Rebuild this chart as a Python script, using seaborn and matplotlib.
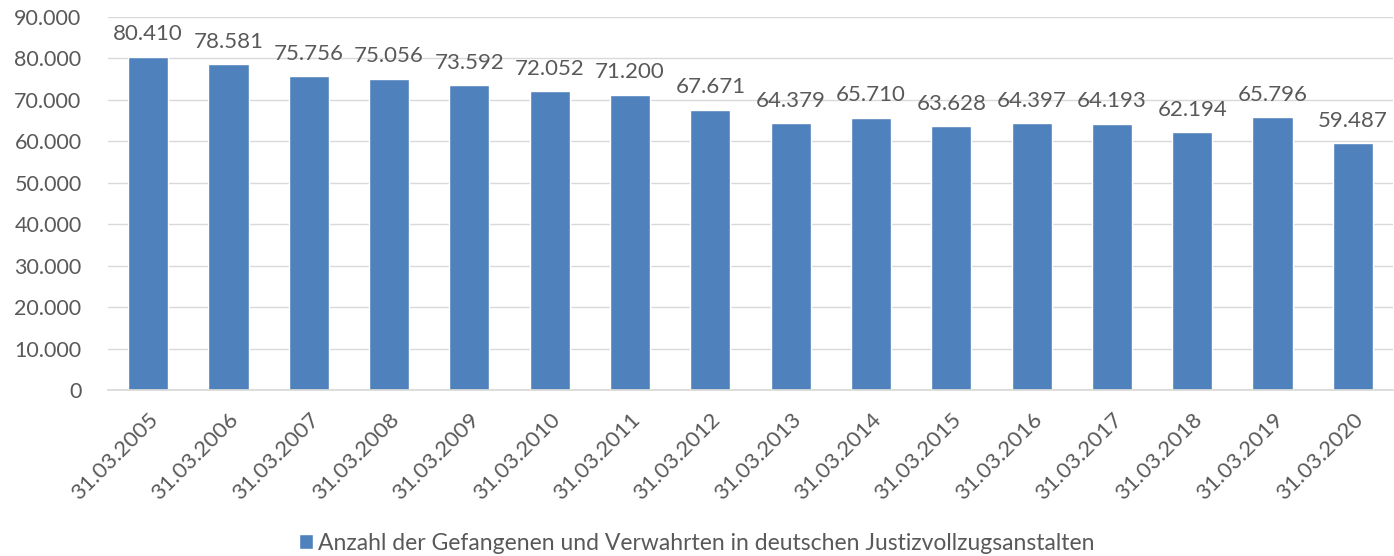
import matplotlib
matplotlib.use("Agg")
import matplotlib.pyplot as plt
import seaborn as sns
import pandas as pd
from matplotlib.patches import Patch
from matplotlib.ticker import FuncFormatter

dates = ["31.03.2005", "31.03.2006", "31.03.2007", "31.03.2008", "31.03.2009",
         "31.03.2010", "31.03.2011", "31.03.2012", "31.03.2013", "31.03.2014",
         "31.03.2015", "31.03.2016", "31.03.2017", "31.03.2018", "31.03.2019",
         "31.03.2020"]
values = [80410, 78581, 75756, 75056, 73592, 72052, 71200, 67671, 64379, 65710,
          63628, 64397, 64193, 62194, 65796, 59487]
series_name = "Anzahl der Gefangenen und Verwahrten in deutschen Justizvollzugsanstalten"

sns.set_theme(style="white")
plt.rcParams['font.family'] = ['Lato', 'DejaVu Sans']

TXT = "#595959"
BAR = "#4F81BD"

df = pd.DataFrame({"Datum": dates, "Anzahl": values})

fig = plt.figure(figsize=(13.94, 5.56), dpi=100)
ax = fig.add_axes([108/1394, 1-390/556, 1285/1394, (390-17)/556])

sns.barplot(data=df, x="Datum", y="Anzahl", color=BAR, width=0.5, ax=ax,
            saturation=1)

ax.set_ylim(0, 90000)
ax.set_yticks(range(0, 90001, 10000))
fmt = lambda v, p=None: f"{int(v):,}".replace(",", ".")
ax.yaxis.set_major_formatter(FuncFormatter(fmt))
ax.set_xlim(-0.5, len(dates) - 0.5)
ax.grid(axis="y", color="#D9D9D9", linewidth=1)
ax.set_axisbelow(True)
for s in ["top", "right", "left"]:
    ax.spines[s].set_visible(False)
ax.spines["bottom"].set_color("#D9D9D9")
ax.set_xlabel("")
ax.set_ylabel("")
ax.tick_params(axis="y", length=0, labelsize=15.5, labelcolor=TXT, pad=19)
ax.tick_params(axis="x", length=0, labelsize=16, labelcolor=TXT, pad=14)
for lab in ax.get_xticklabels():
    lab.set_rotation(45)
    lab.set_ha("right")
    lab.set_rotation_mode("anchor")

for i, v in enumerate(values):
    ax.annotate(fmt(v), (i, v), xytext=(0, 9), textcoords="offset points",
                ha="center", va="bottom", fontsize=16, color=TXT)

fig.legend(handles=[Patch(facecolor=BAR, label=series_name)],
           loc="center", bbox_to_anchor=(0.5, 1-543/556), frameon=False,
           fontsize=16.5, labelcolor=TXT, handlelength=0.6, handleheight=0.6,
           handletextpad=0.25)

fig.savefig("out.png", dpi=100)
